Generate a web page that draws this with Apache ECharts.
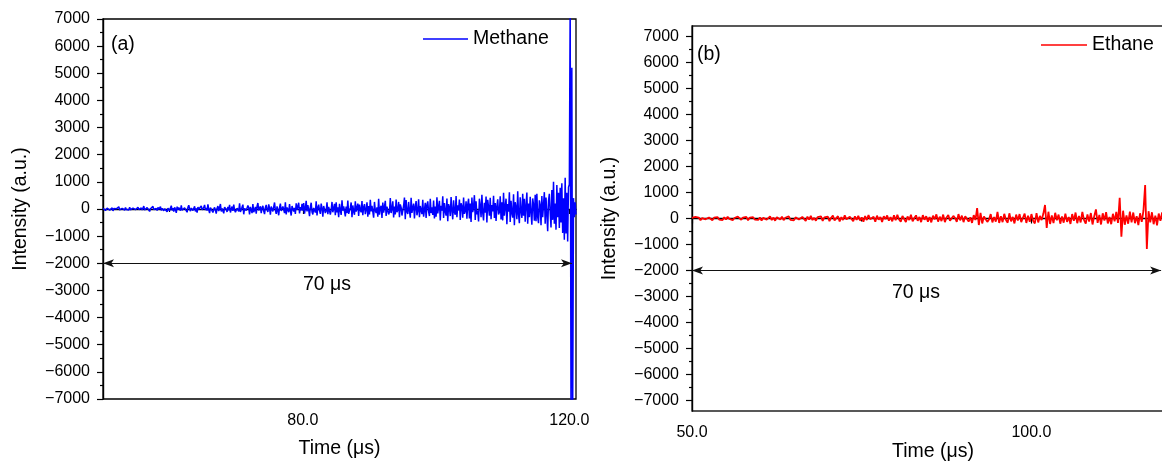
<!DOCTYPE html>
<html><head><meta charset="utf-8">
<script src="https://cdn.jsdelivr.net/npm/echarts@6/dist/echarts.min.js"></script>
<style>html,body{margin:0;padding:0;background:#fff}#c{width:1162px;height:463px}</style>
</head><body><div id="c"></div>
<script>
// ---- data ----
const methaneStart = 50, methaneStep = 0.125; // µs, sample times
const methaneValues = [
  25,-30,40,-55,10,35,-20,60,-45,15,-10,40,-70,20,45,-25,5,-50,30,85,-35,10,-60,25,40,-15,-45,55,-20,30,5,-40,70,-30,15,-55,35,-10,45,-25,
  -50,30,65,-20,15,-80,40,-35,20,105,-40,-60,25,50,-15,70,-90,10,35,-45,95,-20,-75,40,20,-55,60,-15,-30,85,-50,25,45,-65,10,55,-35,-100,30,60,
  -70,40,120,-50,30,-95,60,-20,-140,85,-30,50,15,-60,130,-45,-110,20,45,90,-25,-120,60,140,10,-80,35,65,-55,-20,100,-90,25,-130,70,-10,40,-75,115,-35,
  -100,60,150,-40,40,-60,175,-30,-150,50,20,95,-130,-20,60,110,-170,30,110,-80,-40,185,-90,20,30,-160,70,120,-20,-110,80,-50,150,-130,-10,90,-70,165,-40,-120,
  -140,30,60,-90,210,-110,-30,70,160,-195,20,90,-60,-120,130,40,-200,80,40,-150,180,-120,-40,75,-170,100,220,-50,-90,100,-150,40,120,-80,-190,60,150,-30,-110,170,
  30,-210,90,160,-90,-30,240,-40,-180,100,120,-230,50,200,-70,-140,90,-20,-150,250,-200,60,10,-120,180,-60,-240,110,140,-90,40,-180,210,-30,-100,230,-160,70,-50,190,
  -60,220,-170,40,300,-90,140,-20,-260,70,230,-110,-200,40,90,-130,280,-240,60,160,-50,-180,200,30,-280,110,150,-150,-70,250,-190,80,120,-210,-40,260,-120,30,190,-230,
  250,-120,60,-300,190,-40,-220,320,-60,100,150,-270,90,-150,310,-180,-60,40,240,-300,130,-90,-210,280,-100,50,200,-260,160,-40,-120,290,-230,70,180,-190,-30,250,-280,110,
  -200,340,-90,120,180,-320,260,-60,-150,60,-280,380,-210,40,120,-330,240,-130,-60,300,-260,90,150,-200,-110,400,-150,20,280,-310,90,-200,350,-120,-40,260,-300,170,60,-240,
  -250,120,420,-380,330,-100,-180,260,-60,-320,410,-140,50,200,-350,80,290,-230,-60,360,-300,110,170,-190,340,-280,-40,230,-330,150,280,-100,-260,380,-150,60,-220,310,-350,90,
  -280,430,-160,80,300,-420,120,-60,470,-330,220,-100,-240,390,-450,180,60,-260,440,-60,-380,320,-120,-210,480,-300,140,-50,350,-400,210,90,-320,420,-180,-80,280,-360,160,380,
  -350,200,-480,420,-120,90,510,-400,280,-200,-60,-460,380,120,-300,520,-140,-420,230,-140,460,-500,340,60,-250,410,-380,150,-90,490,-330,220,-440,100,360,-200,-120,470,-390,250,
  -420,600,-250,80,380,-560,180,-100,620,-480,300,-150,-320,540,-600,250,60,-380,650,-200,-520,430,-90,-330,560,-250,380,-470,120,610,-540,200,-300,450,-120,-580,390,160,-430,520,
  -450,560,-300,-520,320,140,-600,480,-300,160,620,-540,420,-200,-820,300,560,-120,-680,700,-400,1000,-540,200,-760,880,-300,600,-700,780,-500,950,-880,400,-1130,1150,-900,600,-1200,800,
  900,7600,-7600,5200,-7600,400,-300,250,-200
];
const ethaneStart = 50, ethaneStep = 0.25;
const ethaneValues = [
  20,-45,60,-10,35,-70,15,50,-30,-55,40,10,-65,30,-20,55,-40,25,-60,45,
  -35,65,-15,40,-60,20,-45,70,5,-50,35,-25,60,-70,30,-10,50,-40,15,-55,
  40,-75,25,60,-45,-20,80,-60,35,-85,50,15,-40,70,-65,30,-20,85,-55,10,
  -70,45,90,-35,-80,60,20,-95,70,-40,100,-60,25,-85,55,-15,80,-90,40,-30,
  75,-100,30,110,-70,-25,90,-115,50,-60,120,-30,-95,70,15,-105,85,-50,100,-75,
  40,-120,95,-60,130,-30,-100,70,-125,110,-45,60,-130,90,-20,115,-85,50,-110,125,
  -70,140,-40,-120,100,30,-135,80,-60,145,-110,20,120,-90,60,-140,130,-50,90,-120,
  60,-150,110,-30,160,-120,70,-100,150,-140,40,130,-90,-160,100,20,-130,170,-70,110,
  -140,90,160,-120,50,-170,130,-60,400,-250,220,-190,80,150,-130,-40,170,-150,60,-120,
  250,-170,90,-140,180,-60,-160,200,-110,60,-190,150,-80,170,-140,30,190,-170,110,-130,
  170,-90,-190,210,-150,100,-60,180,520,-360,260,-210,120,-180,220,-70,150,-200,80,-160,
  190,-130,60,-210,170,-90,230,-180,100,-150,250,-60,-200,160,-120,210,-230,90,350,-170,
  140,-230,200,-80,240,-190,60,-220,180,-110,250,-170,800,-700,300,-240,120,-200,260,-150,
  230,-180,90,-250,200,-130,300,1290,-1170,280,-150,240,-220,110,-260,190,-90,230,-210,160,
  -120
];
const yTicks = [-7000,-6000,-5000,-4000,-3000,-2000,-1000,0,1000,2000,3000,4000,5000,6000,7000];
const yMinorTicks = [-6500,-5500,-4500,-3500,-2500,-1500,-500,500,1500,2500,3500,4500,5500,6500];
const xTicksA = [80, 120], xMinorA = [60, 100];
const xTicksB = [50, 100], xMinorB = [75];
const spanA = [50, 120.4], spanB = [50, 119.1], spanLevel = -2000;
const spanText = '70 μs';

// ---- chart ----
const FONT = '"Liberation Sans", Arial, sans-serif';
const toPairs = (start, step, vals) => vals.map((v, i) => [start + i * step, v]);
const fmtY = v => (v < 0 ? '\u2212' + Math.abs(v) : String(v));
const chart = echarts.init(document.getElementById('c'), null, {renderer: 'canvas'});

function xMain(grid, min, max, ticks, gap) {
  return {gridIndex: grid, type: 'value', min, max, position: 'bottom',
    axisLine: {show: true, lineStyle: {color: '#000', width: 1.4}},
    axisTick: {show: true, customValues: ticks, length: 5, lineStyle: {color: '#000', width: 1.2}},
    axisLabel: {customValues: ticks, formatter: v => v.toFixed(1), fontSize: 16, color: '#000', fontFamily: FONT, margin: 14},
    splitLine: {show: false},
    name: 'Time (μs)', nameLocation: 'middle', nameGap: gap, nameMoveOverlap: false,
    nameTextStyle: {fontSize: 19.5, color: '#000', fontFamily: FONT}};
}
function xMinor(grid, min, max, ticks) {
  return {gridIndex: grid, type: 'value', min, max, position: 'bottom',
    axisLine: {show: false}, axisLabel: {show: false}, splitLine: {show: false},
    axisTick: {show: true, customValues: ticks, length: 3, lineStyle: {color: '#000', width: 1.2}}};
}
function yMain(grid, min, max) {
  return {gridIndex: grid, type: 'value', min, max, position: 'left',
    axisLine: {show: true, lineStyle: {color: '#000', width: 1.4}},
    axisTick: {show: true, customValues: yTicks, length: 6, lineStyle: {color: '#000', width: 1.2}},
    axisLabel: {customValues: yTicks, formatter: fmtY, fontSize: 16, color: '#000', fontFamily: FONT, margin: 13},
    splitLine: {show: false},
    name: 'Intensity (a.u.)', nameLocation: 'middle', nameGap: 72, nameRotate: 90, nameMoveOverlap: false,
    nameTextStyle: {fontSize: 19.5, color: '#000', fontFamily: FONT}};
}
function yMinor(grid, min, max) {
  return {gridIndex: grid, type: 'value', min, max, position: 'left',
    axisLine: {show: false}, axisLabel: {show: false}, splitLine: {show: false},
    axisTick: {show: true, customValues: yMinorTicks, length: 3, lineStyle: {color: '#000', width: 1.2}}};
}
function arrow(span) {
  return {silent: true, symbol: ['arrow', 'arrow'], symbolSize: [6, 11], animation: false,
    label: {show: false}, emphasis: {disabled: true},
    lineStyle: {color: '#111', width: 1, type: 'solid'},
    data: [[{coord: [span[0], spanLevel]}, {coord: [span[1], spanLevel]}]]};
}

chart.setOption({
  animation: false,
  backgroundColor: '#fff',
  grid: [
    {left: 103, top: 19, width: 473, height: 380, show: true, borderColor: '#000', borderWidth: 1.3,
     backgroundColor: 'transparent', containLabel: false, outerBoundsMode: 'none'},
    {left: 692, top: 26, width: 482, height: 385, show: true, borderColor: '#222', borderWidth: 1.3,
     backgroundColor: 'transparent', containLabel: false, outerBoundsMode: 'none'}
  ],
  xAxis: [xMain(0, 50, 121, xTicksA, 40), xMinor(0, 50, 121, xMinorA),
          xMain(1, 50, 121, xTicksB, 31), xMinor(1, 50, 121, xMinorB)],
  yAxis: [yMain(0, -7000, 7000), yMinor(0, -7000, 7000),
          yMain(1, -7400, 7400), yMinor(1, -7400, 7400)],
  legend: [
    {id: 'lgA', data: ['Methane'], left: 423, top: 29, padding: 0, itemWidth: 45, itemHeight: 1.5, icon: 'rect', itemGap: 5,
     textStyle: {fontSize: 19.5, color: '#000', fontFamily: FONT}, selectedMode: false},
    {id: 'lgB', data: ['Ethane'], left: 1041, top: 35, padding: 0, itemWidth: 46, itemHeight: 1.5, icon: 'rect', itemGap: 5,
     textStyle: {fontSize: 19.5, color: '#000', fontFamily: FONT}, selectedMode: false}
  ],
  series: [
    {type: 'line', name: 'Methane', xAxisIndex: 0, yAxisIndex: 0, symbol: 'none', clip: true,
     data: toPairs(methaneStart, methaneStep, methaneValues),
     lineStyle: {color: '#0000ff', width: 1.5}, itemStyle: {color: '#0000ff'},
     markLine: arrow(spanA)},
    {type: 'line', name: 'Ethane', xAxisIndex: 2, yAxisIndex: 2, symbol: 'none', clip: true,
     data: toPairs(ethaneStart, ethaneStep, ethaneValues),
     lineStyle: {color: '#ff0000', width: 1.8}, itemStyle: {color: '#ff0000'},
     markLine: arrow(spanB)}
  ],
  graphic: [
    {type: 'text', x: 111, y: 45, silent: true, style: {text: '(a)', fontSize: 19.5, fontFamily: FONT, fill: '#000', verticalAlign: 'middle'}},
    {type: 'text', x: 697, y: 55, silent: true, style: {text: '(b)', fontSize: 19.5, fontFamily: FONT, fill: '#000', verticalAlign: 'middle'}},
    {type: 'text', x: 303, y: 285, silent: true, style: {text: spanText, fontSize: 19.5, fontFamily: FONT, fill: '#000', verticalAlign: 'middle'}},
    {type: 'text', x: 892, y: 293, silent: true, style: {text: spanText, fontSize: 19.5, fontFamily: FONT, fill: '#000', verticalAlign: 'middle'}}
  ]
});
</script>
</body></html>
